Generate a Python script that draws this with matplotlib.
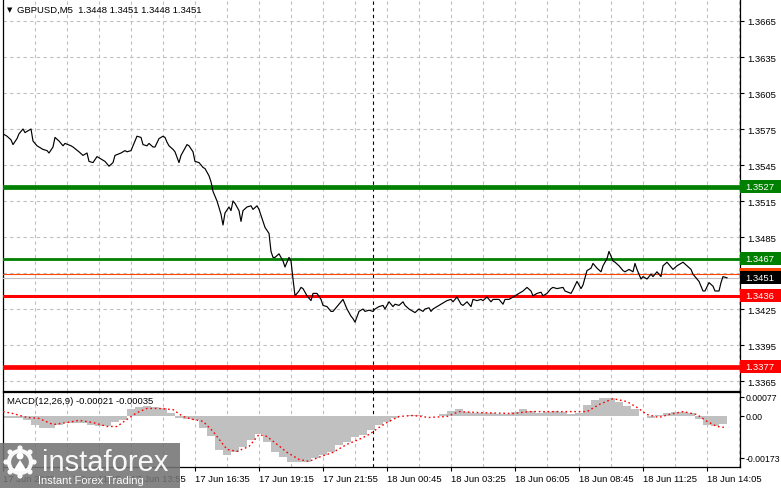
import matplotlib
matplotlib.use('Agg')
import matplotlib.pyplot as plt
from matplotlib.patches import Rectangle, Circle, Polygon
import numpy as np

plt.rcParams['font.family'] = ['Liberation Sans', 'DejaVu Sans']

# ---------------- data ----------------
symbol_title = "GBPUSD,M5  1.3448 1.3451 1.3448 1.3451"
macd_title = "MACD(12,26,9) -0.00021 -0.00035"

price_bars = [0, 2, 4, 5, 7, 8, 10, 11, 12, 14, 15, 17, 18, 20, 22, 23, 25, 26, 28, 30,
              31, 34, 35, 38, 40, 42, 43, 45, 47, 49, 51, 53, 55, 56, 59, 61, 62, 64, 67, 69,
              70, 72, 73, 75, 76, 78, 80, 81, 82, 83, 85, 86, 88, 89, 90, 92, 93, 95, 96, 98,
              100, 101, 103, 104, 105, 107, 109, 110, 111, 113, 114, 115, 116, 118, 119, 120, 122, 124, 125, 127,
              128, 130, 131, 133, 134, 135, 136, 138, 140, 141, 142, 143, 144, 145, 146, 148, 149, 150, 152, 154,
              155, 157, 159, 160, 162, 164, 165, 167, 169, 170, 172, 174, 175, 176, 178, 180, 181, 183, 185, 186,
              188, 190, 191, 193, 195, 196, 198, 200, 201, 203, 205, 206, 208, 210, 211, 213, 214, 215, 219, 222,
              224, 225, 227, 229, 230, 232, 234, 235, 237, 239, 240, 242, 244, 245, 248, 250, 251, 253, 255, 258,
              260, 262, 264, 265, 267, 269, 270, 272, 274, 275, 277, 280, 281, 284, 285, 287, 289, 290, 292, 294,
              295, 297, 299, 300, 302, 303, 305, 306, 308, 310, 311, 313, 315, 316, 317, 319, 320, 322, 324, 325,
              327, 329, 330, 332, 334, 335, 337, 339, 340, 342, 344, 345, 348, 350, 351, 353, 355, 356, 358, 359,
              360, 362]
price_close = [1.3571, 1.3569, 1.3566, 1.3562, 1.3567, 1.3571, 1.3575, 1.3572, 1.3573, 1.3575,
               1.3565, 1.3561, 1.3560, 1.3558, 1.3557, 1.3555, 1.3560, 1.3568, 1.3565, 1.3561,
               1.3563, 1.3561, 1.3560, 1.3556, 1.3553, 1.3555, 1.3548, 1.3547, 1.3552, 1.3550,
               1.3548, 1.3544, 1.3547, 1.3553, 1.3555, 1.3557, 1.3556, 1.3557, 1.3569, 1.3568,
               1.3562, 1.3561, 1.3563, 1.3560, 1.3560, 1.3567, 1.3569, 1.3568, 1.3564, 1.3561,
               1.3558, 1.3556, 1.3547, 1.3553, 1.3556, 1.3562, 1.3561, 1.3556, 1.3548, 1.3547,
               1.3543, 1.3542, 1.3536, 1.3531, 1.3523, 1.3515, 1.3504, 1.3495, 1.3505, 1.3510,
               1.3507, 1.3515, 1.3513, 1.3507, 1.3498, 1.3507, 1.3510, 1.3511, 1.3508, 1.3511,
               1.3508, 1.3498, 1.3493, 1.3488, 1.3473, 1.3468, 1.3468, 1.3471, 1.3465, 1.3460,
               1.3464, 1.3468, 1.3465, 1.3450, 1.3436, 1.3440, 1.3443, 1.3442, 1.3436, 1.3432,
               1.3438, 1.3438, 1.3433, 1.3428, 1.3427, 1.3423, 1.3423, 1.3427, 1.3431, 1.3433,
               1.3425, 1.3419, 1.3417, 1.3414, 1.3423, 1.3425, 1.3423, 1.3424, 1.3423, 1.3425,
               1.3427, 1.3428, 1.3425, 1.3431, 1.3427, 1.3429, 1.3428, 1.3431, 1.3428, 1.3425,
               1.3423, 1.3422, 1.3425, 1.3423, 1.3425, 1.3426, 1.3423, 1.3425, 1.3429, 1.3432,
               1.3433, 1.3431, 1.3435, 1.3429, 1.3428, 1.3431, 1.3427, 1.3433, 1.3432, 1.3433,
               1.3432, 1.3435, 1.3431, 1.3433, 1.3433, 1.3429, 1.3433, 1.3433, 1.3435, 1.3438,
               1.3440, 1.3443, 1.3440, 1.3436, 1.3438, 1.3439, 1.3436, 1.3438, 1.3442, 1.3443,
               1.3442, 1.3443, 1.3440, 1.3438, 1.3441, 1.3448, 1.3442, 1.3445, 1.3457, 1.3459,
               1.3463, 1.3459, 1.3456, 1.3461, 1.3467, 1.3473, 1.3465, 1.3464, 1.3461, 1.3457,
               1.3456, 1.3458, 1.3456, 1.3463, 1.3458, 1.3450, 1.3452, 1.3450, 1.3454, 1.3452,
               1.3456, 1.3452, 1.3461, 1.3464, 1.3460, 1.3458, 1.3461, 1.3463, 1.3464, 1.3461,
               1.3458, 1.3454, 1.3448, 1.3440, 1.3440, 1.3447, 1.3444, 1.3440, 1.3440, 1.3447,
               1.3452, 1.3451]

hist_bars = list(range(0, 361, 4))
hist_vals = [-0.00012, -0.00012, -0.00012, -0.00020, -0.00040, -0.00050, -0.00050, -0.00040, -0.00030, -0.00030,
             -0.00030, -0.00040, -0.00045, -0.00045, -0.00025, -0.00020, 0.00025, 0.00035, 0.00037, 0.00033,
             0.00030, 0.00010, -0.00010, -0.00015, -0.00020, -0.00050, -0.00085, -0.00140, -0.00160, -0.00150,
             -0.00130, -0.00100, -0.00075, -0.00110, -0.00150, -0.00170, -0.00190, -0.00190, -0.00190, -0.00175,
             -0.00160, -0.00150, -0.00120, -0.00110, -0.00090, -0.00080, -0.00060, -0.00040, -0.00025, -0.00012,
             0.00000, 0.00004, 0.00004, -0.00004, -0.00004, 0.00008, 0.00020, 0.00025, 0.00015, 0.00010,
             0.00010, 0.00010, 0.00008, 0.00008, 0.00015, 0.00025, 0.00020, 0.00010, 0.00015, 0.00020,
             0.00015, 0.00008, 0.00010, 0.00045, 0.00065, 0.00070, 0.00073, 0.00057, 0.00040, 0.00025,
             0.00000, -0.00010, 0.00004, 0.00010, 0.00015, 0.00015, 0.00010, -0.00015, -0.00040, -0.00045,
             -0.00035]

signal_bars = [0, 5, 12, 18, 25, 32, 38, 45, 52, 57, 62, 67, 72, 78, 85, 90, 95, 100, 105, 112,
               117, 123, 128, 132, 137, 142, 148, 153, 158, 165, 172, 178, 183, 188, 193, 198, 205, 213, 222, 228,
               238, 255, 263, 280, 292, 298, 305, 312, 317, 322, 328, 333, 340, 347, 352, 357, 361]
signal_vals = [0.00016, 0.00008, -0.00008, -0.00012, -0.00037, -0.00029, -0.00020, -0.00029, -0.00045, -0.00045,
               -0.00016, 0.00012, 0.00029, 0.00029, 0.00024, -0.00004, -0.00016, -0.00024, -0.00065, -0.00139,
               -0.00147, -0.00127, -0.00078, -0.00086, -0.00118, -0.00151, -0.00180, -0.00188, -0.00171, -0.00151,
               -0.00118, -0.00098, -0.00078, -0.00049, -0.00024, -0.00004, 0.00000, -0.00008, -0.00004, 0.00016,
               0.00012, 0.00008, 0.00016, 0.00016, 0.00016, 0.00045, 0.00069, 0.00057, 0.00033, 0.00004,
               -0.00008, 0.00004, 0.00016, 0.00004, -0.00024, -0.00045, -0.00049]

price_ticks = [1.3665, 1.3635, 1.3605, 1.3575, 1.3545, 1.3515, 1.3485, 1.3455, 1.3425, 1.3395, 1.3365]
price_tick_labels = ['1.3665', '1.3635', '1.3605', '1.3575', '1.3545', '1.3515', '1.3485', '', '1.3425', '1.3395', '1.3365']

time_tick_bars = [0, 32, 64, 96, 128, 160, 192, 224, 256, 288, 320, 352]
time_tick_labels = ['17 Jun 2025', '17 Jun 11:15', '17 Jun 13:55', '17 Jun 16:35', '17 Jun 19:15', '17 Jun 21:55',
                    '18 Jun 00:45', '18 Jun 03:25', '18 Jun 06:05', '18 Jun 08:45', '18 Jun 11:25', '18 Jun 14:05']
grid_bars = list(range(16, 369, 16))
separator_bar = 185

macd_ticks = [0.00077, 0.0, -0.00173]
macd_tick_labels = ['0.00077', '0.00', '-0.00173']

resistance_levels = [1.3527, 1.3467]
support_levels = [1.3436, 1.3377]
ask_price = 1.3454
bid_price = 1.3451

# ---------------- layout ----------------
W, H = 781, 489
fig = plt.figure(figsize=(W / 100, H / 100), dpi=100)
fig.patch.set_facecolor('white')


def px_axes(l, t, r, b):
    return fig.add_axes([l / W, 1 - b / H, (r - l) / W, (b - t) / H])


ax = px_axes(3, 0, 740, 392)
mx = px_axes(3, 393, 740, 468)

GRID = dict(color='#c0c0c0', lw=0.8, ls=(0, (3, 3)), zorder=0)
FS = 6.8

# main panel
ax.set_xlim(0, 368.5)
ax.set_ylim(1.3665 - 370 / 12000, 1.3665 + 22 / 12000)
for p in price_ticks:
    ax.axhline(p, **GRID)
for b in grid_bars:
    ax.axvline(b, **GRID)
ax.axvline(separator_bar, color='black', lw=0.8, ls=(0, (3, 3)), zorder=1)

ax.plot(price_bars, price_close, color='black', lw=0.85, zorder=5)

ax.axhline(resistance_levels[0], color='#008000', lw=3.4, zorder=4)
ax.axhline(resistance_levels[1], color='#008000', lw=2.0, zorder=4)
ax.axhline(support_levels[0], color='#ff0000', lw=2.2, zorder=4)
ax.axhline(support_levels[1], color='#ff0000', lw=3.4, zorder=4)
ax.axhline(ask_price, color='#ff4500', lw=0.8, zorder=3)
ax.axhline(bid_price, color='#c0c0c0', lw=0.8, zorder=3)

ax.yaxis.tick_right()
ax.set_yticks(price_ticks)
ax.set_yticklabels(price_tick_labels)
ax.set_xticks([])
ax.tick_params(axis='y', direction='out', length=3, width=0.8, pad=2, labelsize=FS, colors='black')
for s in ['left', 'right', 'bottom']:
    ax.spines[s].set_color('black')
    ax.spines[s].set_linewidth(0.9)
ax.spines['top'].set_visible(False)

# right-side level boxes
ytr = ax.get_yaxis_transform()
box_h = 13 / 12000
box_w = (W - 740) / 737


def level_box(price, fc, tc, z):
    ax.add_patch(Rectangle((1.0, price - box_h / 2), box_w, box_h, transform=ytr,
                           facecolor=fc, edgecolor='none', clip_on=False, zorder=z))
    ax.text(1.0075, price, f'{price:.4f}', transform=ytr, ha='left', va='center',
            fontsize=FS, color=tc, clip_on=False, zorder=z + 0.1)


level_box(resistance_levels[0], '#008000', 'white', 10)
level_box(resistance_levels[1], '#008000', 'white', 10)
level_box(ask_price, '#ff4500', 'white', 10)
level_box(bid_price, 'black', 'white', 11)
level_box(support_levels[0], '#ff0000', 'white', 10)
level_box(support_levels[1], '#ff0000', 'white', 10)

# MACD panel
mx.set_xlim(0, 368.5)
mx.set_ylim(-51.5 / 24400, 23.5 / 24400)
for b in grid_bars:
    mx.axvline(b, **GRID)
mx.axvline(separator_bar, color='black', lw=0.8, ls=(0, (3, 3)), zorder=1)
mx.bar(hist_bars, hist_vals, width=4, color='#c0c0c0', edgecolor='none', align='center', zorder=2)
mx.plot(signal_bars, signal_vals, color='#ff0000', lw=1.0, ls=(0, (1.2, 2.0)), zorder=3)

mx.yaxis.tick_right()
mx.set_yticks(macd_ticks)
mx.set_yticklabels(macd_tick_labels)
mx.set_xticks(time_tick_bars)
mx.set_xticklabels(time_tick_labels)
for lbl in mx.get_xticklabels():
    lbl.set_ha('left')
mx.tick_params(axis='x', direction='out', length=3, width=0.8, pad=2, labelsize=FS, colors='black')
mx.tick_params(axis='y', direction='out', length=3, width=0.8, pad=1, labelsize=6.3, colors='black')
for s in mx.spines.values():
    s.set_color('black')
    s.set_linewidth(0.9)

# overlay for texts and watermark
ov = fig.add_axes([0, 0, 1, 1], zorder=20)
ov.set_xlim(0, W)
ov.set_ylim(H, 0)
ov.axis('off')
ov.patch.set_alpha(0)

ov.text(7, 10, '\u25BC', fontsize=5, ha='left', va='center', family=['DejaVu Sans'])
ov.text(17, 10, symbol_title, fontsize=FS, ha='left', va='center')
ov.text(7, 401, macd_title, fontsize=FS, ha='left', va='center')

# instaforex watermark
ov.add_patch(Rectangle((0, 444), 180, 45, facecolor='#747474', edgecolor='none', alpha=0.88))
ov.add_patch(Circle((20, 463), 11, facecolor='none', edgecolor='white', lw=3.0, alpha=0.95))
for ang in np.linspace(0, 2 * np.pi, 8, endpoint=False):
    cx, cy = 20 + 14 * np.cos(ang), 463 + 14 * np.sin(ang)
    ov.add_patch(Circle((cx, cy), 2.6, facecolor='white', edgecolor='none', alpha=0.95))
ov.add_patch(Circle((20, 457), 3.5, facecolor='white', edgecolor='none'))
ov.add_patch(Polygon([[13, 472], [20, 461], [27, 472]], closed=True, facecolor='white', edgecolor='none'))
ov.text(42, 463, 'instaforex', fontsize=21, color='white', ha='left', va='center', alpha=0.95)
ov.text(38, 481, 'Instant Forex Trading', fontsize=8, color='white', ha='left', va='center', alpha=0.95)

fig.savefig('out.png', dpi=100)
